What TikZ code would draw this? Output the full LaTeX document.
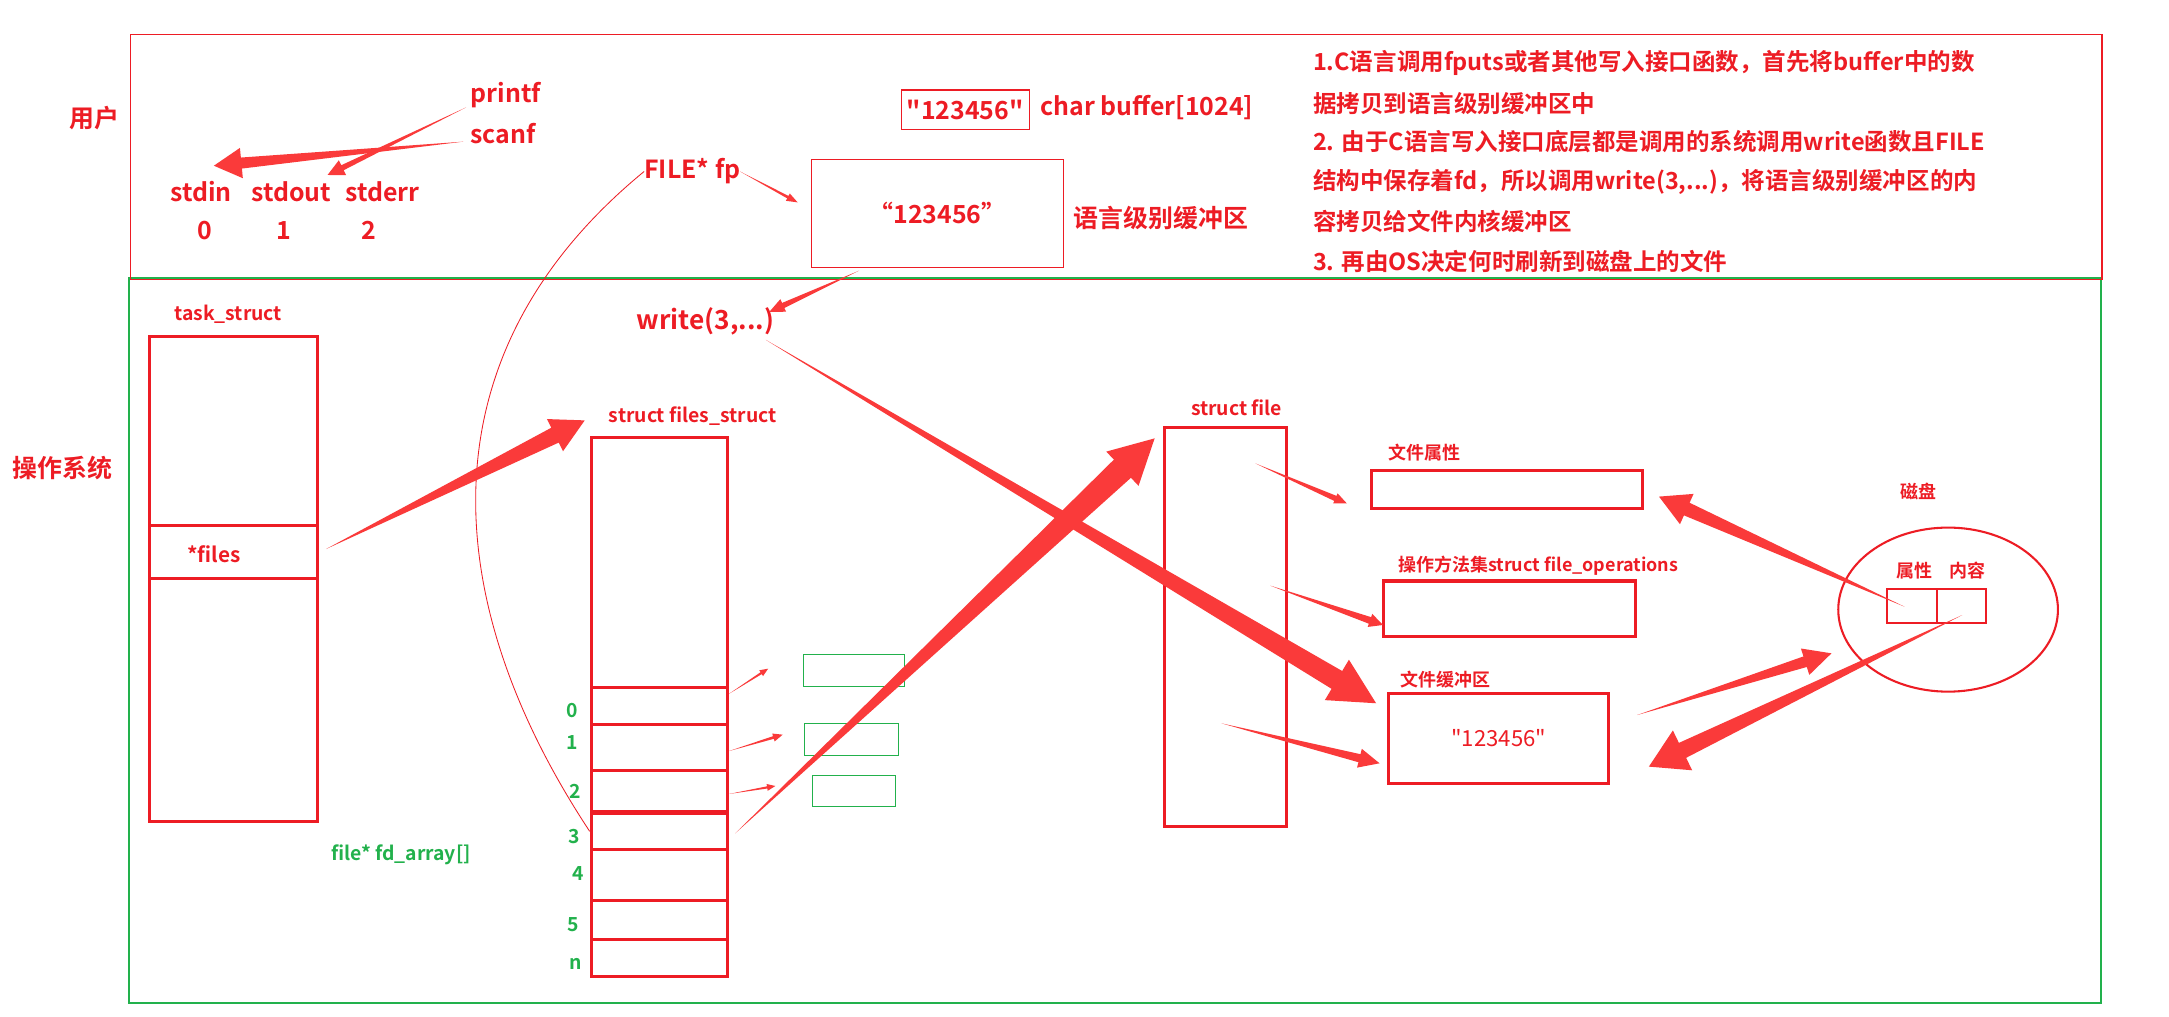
\documentclass[tikz,border=0pt]{standalone}
\usepackage{fontspec}
\setmainfont{Noto Sans CJK SC}[BoldFont={Noto Sans CJK SC Bold},Ligatures=TeXOff]
\usepackage{tikz}
\usetikzlibrary{positioning, calc, shapes.geometric}

\definecolor{boxred}{RGB}{237,28,36}
\definecolor{arrowred}{RGB}{250,58,58}
\definecolor{boxgreen}{RGB}{34,177,76}

% tapered arrow: tail, tip, shaft half width, head half width, head length
\newcommand{\fatarrow}[5]{%
  \path ($(#2)!#5!(#1)$) coordinate (fa-base);
  \fill[arrowred] (#1) -- ($(fa-base)!#3!90:(#2)$) -- ($(fa-base)!#4!90:(#2)$) -- (#2)
    -- ($(fa-base)!#4!-90:(#2)$) -- ($(fa-base)!#3!-90:(#2)$) -- cycle;
}

\begin{document}
\begin{tikzpicture}[x=1pt,y=-1pt,
  redbox/.style={draw=boxred,line width=2.2pt,inner sep=0pt},
  thinbox/.style={draw=boxred,line width=1pt,inner sep=0pt},
  greenbox/.style={draw=boxgreen,line width=0.8pt,inner sep=0pt},
  bigtxt/.style={text=boxred,font=\bfseries\fontsize{18}{20}\selectfont,inner sep=0pt},
  smalltxt/.style={text=boxred,font=\bfseries\fontsize{14}{16}\selectfont,inner sep=0pt},
  greentxt/.style={text=boxgreen,font=\bfseries\fontsize{14}{16}\selectfont,inner sep=0pt},
  noteline/.style={bigtxt,font=\bfseries\fontsize{17}{19}\selectfont,anchor=west}]
\path[use as bounding box,fill=white] (0,0) rectangle (1568,735);

% the two levels
\node[draw=boxgreen,line width=1.5pt,inner sep=0pt,minimum width=1426pt,minimum height=524pt] (osarea) at (806,463) {};
\node[thinbox,minimum width=1425pt,minimum height=177pt] (userarea) at (807,113.5) {};
\node[bigtxt] (user) at (68,85) {用户};
\node[bigtxt] (os) at (45,338) {操作系统};

% user level
\node[bigtxt,anchor=west] (printf) at (340,68.7) {printf};
\node[bigtxt,anchor=west] (scanf) at (340,96.4) {scanf};
\node[bigtxt,anchor=west] (stdin) at (123,138.6) {stdin};
\node[bigtxt,anchor=west] (stdout) at (181.6,138.6) {stdout};
\node[bigtxt,anchor=west] (stderr) at (249.5,138.6) {stderr};
\node[bigtxt] (fd0) at (148,166.3) {0};
\node[bigtxt] (fd1) at (205,166.3) {1};
\node[bigtxt] (fd2) at (267,166.3) {2};

\node[thinbox,bigtxt,minimum width=92.5pt,minimum height=28.5pt] (userbuf) at (697.8,79.3) {"123456"};
\node[bigtxt,anchor=west] (charbuf) at (752,78) {char buffer[1024]};
\node[bigtxt,anchor=west] (filefp) at (465.6,124) {FILE* fp};
\node[thinbox,bigtxt,minimum width=182pt,minimum height=78pt] (langbuf) at (677.8,154.3) {“123456”};
\node[bigtxt,anchor=west] (langlbl) at (776,157.8) {语言级别缓冲区};

\node[noteline] (note1) at (949,45.8) {1.C语言调用fputs或者其他写入接口函数，首先将buffer中的数};
\node[noteline] (note2) at (949,74.6) {据拷贝到语言级别缓冲区中};
\node[noteline] (note3) at (949,102.6) {2. 由于C语言写入接口底层都是调用的系统调用write函数且FILE};
\node[noteline] (note4) at (949,131.3) {结构中保存着fd，所以调用write(3,...)，将语言级别缓冲区的内};
\node[noteline] (note5) at (949,160.4) {容拷贝给文件内核缓冲区};
\node[noteline] (note6) at (949,189.3) {3. 再由OS决定何时刷新到磁盘上的文件};

% kernel level
\node[bigtxt,font=\bfseries\fontsize{19}{21}\selectfont,anchor=west] (write) at (460,232.2) {write(3,...)};

\node[smalltxt,anchor=west] (tasklbl) at (125.8,227) {task\_struct};
\node[redbox,minimum width=121.4pt,minimum height=350.5pt] (task) at (169.1,418.5) {};
\node[redbox,minimum width=121.4pt,minimum height=38.5pt] (files) at (169.1,398.9) {};
\node[smalltxt,font=\bfseries\fontsize{15}{17}\selectfont,anchor=west] (fileslbl) at (135,401) {*files};

\node[smalltxt,anchor=west] (fslbl) at (440,300.5) {struct files\_struct};
\node[redbox,minimum width=98.6pt,minimum height=389.8pt] (fs) at (476.7,510.9) {};
\node[redbox,minimum width=98.6pt,minimum height=27pt] (slot0) at (476.7,510.5) {};
\node[redbox,minimum width=98.6pt,minimum height=33pt] (slot1) at (476.7,540.5) {};
\node[redbox,minimum width=98.6pt,minimum height=30pt] (slot2) at (476.7,572) {};
\node[redbox,minimum width=98.6pt,minimum height=26pt] (slot3) at (476.7,601) {};
\node[redbox,minimum width=98.6pt,minimum height=37pt] (slot4) at (476.7,632.5) {};
\node[redbox,minimum width=98.6pt,minimum height=28pt] (slot5) at (476.7,665) {};
\node[redbox,minimum width=98.6pt,minimum height=26.8pt] (slotn) at (476.7,692.4) {};
\node[greentxt] (idx0) at (413.8,513.6) {0};
\node[greentxt] (idx1) at (413.5,536.6) {1};
\node[greentxt] (idx2) at (416,572.2) {2};
\node[greentxt] (idx3) at (415.3,605) {3};
\node[greentxt] (idx4) at (418,631.4) {4};
\node[greentxt] (idx5) at (414.6,668.3) {5};
\node[greentxt] (idxn) at (416.4,697) {n};
\node[greentxt,anchor=west] (fdarray) at (239.3,617.8) {file* fd\_array[]};

\node[greenbox,minimum width=73.3pt,minimum height=23.1pt] (gfileA) at (617.4,484.6) {};
\node[greenbox,minimum width=67.7pt,minimum height=23.1pt] (gfileB) at (615.5,534.5) {};
\node[greenbox,minimum width=60pt,minimum height=22.4pt] (gfileC) at (617.4,571.7) {};

\node[smalltxt,anchor=west] (sflbl) at (860.8,294.7) {struct file};
\node[redbox,minimum width=88.2pt,minimum height=288.9pt] (sf) at (885.6,453.2) {};

\node[smalltxt,font=\bfseries\fontsize{13}{15}\selectfont,anchor=west] (attrlbl) at (1003.7,327.2) {文件属性};
\node[redbox,minimum width=196.2pt,minimum height=27.5pt] (attr) at (1089.4,354) {};
\node[smalltxt,font=\bfseries\fontsize{13}{15}\selectfont,anchor=west] (opslbl) at (1010.5,409.2) {操作方法集struct file\_operations};
\node[redbox,minimum width=182.4pt,minimum height=39.8pt] (ops) at (1091.4,439.9) {};
\node[smalltxt,font=\bfseries\fontsize{13}{15}\selectfont,anchor=west] (kbuflbl) at (1012,491.6) {文件缓冲区};
\node[redbox,minimum width=158.9pt,minimum height=65.1pt,text=boxred,font=\fontsize{16}{18}\selectfont] (kbuf) at (1083.5,533.8) {"123456"};

\node[smalltxt,font=\bfseries\fontsize{13}{15}\selectfont] (disklbl) at (1386.6,355.4) {磁盘};
\node[draw=boxred,line width=1.5pt,ellipse,inner sep=0pt,minimum width=158.8pt,minimum height=118.6pt] (disk) at (1408.3,440.7) {};
\node[smalltxt,font=\bfseries\fontsize{13}{15}\selectfont] (dattrlbl) at (1384.2,412.8) {属性};
\node[smalltxt,font=\bfseries\fontsize{13}{15}\selectfont] (dcontlbl) at (1422.6,412.8) {内容};
\node[draw=boxred,line width=1.5pt,inner sep=0pt,minimum width=36pt,minimum height=24.8pt] (dattr) at (1382.4,438.2) {};
\node[draw=boxred,line width=1.5pt,inner sep=0pt,minimum width=35.5pt,minimum height=24.8pt] (dcont) at (1418.2,438.2) {};

% FILE* fp holds fd 3
\draw[boxred,line width=0.6pt] (filefp.west) .. controls (300,260) and (320,440) .. (slot3.west);

% arrow ends
\coordinate (scanfT) at (335,102.4);   \coordinate (stdinH) at (154.6,119.8);
\coordinate (printfT) at (337,77.6);   \coordinate (stdoutH) at (236.8,126.5);
\coordinate (fpT) at (535,124);        \coordinate (langH) at (576.6,146.3);
\coordinate (langT) at (621,195.7);    \coordinate (writeH) at (556.2,225.4);
\coordinate (filesT) at (235.7,396.9); \coordinate (fsH) at (422.7,303.9);
\coordinate (slot0T) at (526.8,501.7); \coordinate (gAH) at (555.3,483.4);
\coordinate (slot1T) at (526.8,543);   \coordinate (gBH) at (565.8,531.1);
\coordinate (slot2T) at (526.8,574);   \coordinate (gCH) at (560.5,568.2);
\coordinate (slot3T) at (531.5,602.4); \coordinate (sfH) at (834.7,316.9);
\coordinate (writeT) at (553.6,245.7); \coordinate (kbufH) at (994.8,508.4);
\coordinate (sfT1) at (907.5,335);     \coordinate (attrH) at (973.6,363.9);
\coordinate (sfT2) at (918.4,423.4);   \coordinate (opsH) at (999.8,451.8);
\coordinate (sfT3) at (883,522.9);     \coordinate (kbufH2) at (997.3,551.8);
\coordinate (dattrT) at (1376.8,438.6); \coordinate (attrH2) at (1199.3,359);
\coordinate (kbufT) at (1183.5,516.9); \coordinate (diskH) at (1324,472.3);
\coordinate (dcontT) at (1418.6,444.6); \coordinate (kbufH3) at (1192,554.2);

\fatarrow{scanfT}{stdinH}{4pt}{11pt}{20pt}
\fatarrow{printfT}{stdoutH}{2pt}{6pt}{12pt}
\fatarrow{fpT}{langH}{1pt}{3pt}{8pt}
\fatarrow{langT}{writeH}{2pt}{5pt}{11pt}
\fatarrow{filesT}{fsH}{6pt}{13pt}{24pt}
\fatarrow{slot0T}{gAH}{0.8pt}{2.5pt}{6pt}
\fatarrow{slot1T}{gBH}{1pt}{3pt}{7pt}
\fatarrow{slot2T}{gCH}{0.8pt}{2.5pt}{6pt}
\fatarrow{slot3T}{sfH}{9pt}{17pt}{32pt}
\fatarrow{writeT}{kbufH}{7.5pt}{17pt}{33pt}
\fatarrow{sfT1}{attrH}{2pt}{4pt}{9pt}
\fatarrow{sfT2}{opsH}{2.5pt}{5pt}{10pt}
\fatarrow{sfT3}{kbufH2}{3pt}{7pt}{15pt}
\fatarrow{dattrT}{attrH2}{5pt}{12pt}{22pt}
\fatarrow{kbufT}{diskH}{4pt}{10pt}{20pt}
\fatarrow{dcontT}{kbufH3}{6pt}{16pt}{27pt}
\end{tikzpicture}
\end{document}
